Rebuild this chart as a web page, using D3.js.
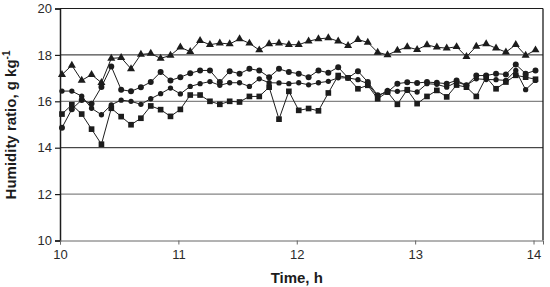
<!DOCTYPE html>
<html>
<head>
<meta charset="utf-8">
<script src="https://cdn.jsdelivr.net/npm/d3@7"></script>
<style>
  body { margin: 0; background: #fff; }
  svg { display: block; font-family: 'Liberation Sans', Arial, sans-serif; }
</style>
</head>
<body>
<script>
// sample times, minutes after 10:00
const minutes = [1, 6, 11, 16, 21, 26, 31, 36, 41, 46, 51, 56, 61, 66, 71, 76, 81, 86, 91, 96,
  101, 106, 111, 116, 121, 126, 131, 136, 141, 146, 151, 156, 161, 166, 171, 176, 181, 186, 191, 196,
  201, 206, 211, 216, 221, 226, 231, 236, 241]

const triangles = [17.15, 17.55, 16.9, 17.15, 16.8, 17.85, 17.88, 17.4, 18.02, 18.06,
  17.85, 17.98, 18.33, 18.14, 18.61, 18.44, 18.51, 18.47, 18.69, 18.5,
  18.21, 18.47, 18.51, 18.44, 18.44, 18.59, 18.69, 18.73, 18.59, 18.4,
  18.66, 18.54, 18.11, 18.0, 18.19, 18.34, 18.23, 18.43, 18.33, 18.29,
  18.35, 17.92, 18.37, 18.47, 18.29, 18.12, 18.44, 17.98, 18.21]

const circles = [14.86, 15.66, 16.06, 15.9, 16.62, 17.5, 16.5, 16.43, 16.61, 16.83,
  17.26, 16.9, 17.04, 17.21, 17.33, 17.33, 16.83, 17.3, 17.19, 17.4,
  17.33, 17.04, 17.4, 17.26, 17.19, 17.04, 17.33, 17.23, 17.47, 17.01,
  17.3, 16.83, 16.26, 16.4, 16.76, 16.82, 16.79, 16.83, 16.8, 16.76,
  16.9, 16.69, 17.11, 17.11, 17.19, 17.16, 17.59, 17.19, 17.33]

const diamonds = [16.44, 16.44, 16.22, 15.7, 15.42, 15.85, 16.05, 16.0, 15.87, 16.11,
  16.33, 16.57, 16.32, 16.64, 16.76, 16.85, 16.69, 16.8, 16.8, 16.64,
  16.97, 16.8, 16.79, 16.76, 16.8, 16.71, 16.8, 16.86, 17.01, 17.01,
  16.93, 16.76, 16.21, 16.47, 16.43, 16.47, 16.4, 16.76, 16.73, 16.61,
  16.83, 16.69, 16.97, 16.94, 16.93, 16.9, 17.33, 16.5, 16.9]

const squares = [15.45, 15.85, 15.45, 14.8, 14.15, 15.7, 15.34, 14.99, 15.27, 15.8,
  15.64, 15.35, 15.65, 16.27, 16.27, 16.0, 15.87, 16.0, 15.97, 16.21,
  16.21, 16.61, 15.23, 16.43, 15.61, 15.69, 15.59, 16.36, 17.11, 17.01,
  16.54, 16.69, 16.11, 16.4, 15.87, 16.5, 15.9, 16.21, 16.47, 16.19,
  16.7, 16.61, 16.21, 17.04, 16.54, 16.83, 17.12, 17.04, 16.95]

const xTicks = [10, 11, 12, 13, 14]
const yTicks = [10, 12, 14, 16, 18, 20]

const ink = '#1c1c1c'
const plotLeft = 60, plotRight = 543, plotTop = 8.5, plotBottom = 240.5

const svg = d3.select('body').append('svg').attr('width', 550).attr('height', 287)

const x = d3.scaleLinear().domain([10, 14.08]).range([plotLeft, plotRight])
const y = d3.scaleLinear().domain([10, 20]).range([plotBottom, plotTop])

// horizontal rules (gridlines + top frame); 12 and 16 print lighter
svg.append('g').selectAll('line').data(yTicks.slice(1)).join('line')
  .attr('x1', plotLeft).attr('x2', plotRight)
  .attr('y1', d => y(d)).attr('y2', d => y(d))
  .attr('stroke', d => (d === 12 || d === 16) ? '#666' : ink).attr('stroke-width', 1)

// right frame
svg.append('line').attr('x1', plotRight).attr('x2', plotRight).attr('y1', plotTop).attr('y2', plotBottom)
  .attr('stroke', ink).attr('stroke-width', 1.3)

// axes
const yAxis = svg.append('g').attr('transform', `translate(${plotLeft},0)`)
  .call(d3.axisLeft(y).tickValues(yTicks).tickFormat(d3.format('d')).tickSize(5).tickPadding(3))
const xAxis = svg.append('g').attr('transform', `translate(0,${plotBottom})`)
  .call(d3.axisBottom(x).tickValues(xTicks).tickFormat(d3.format('d')).tickSize(4).tickPadding(5))

yAxis.select('.domain').attr('stroke', ink).attr('stroke-width', 1.5)
xAxis.select('.domain').attr('stroke', '#666').attr('stroke-width', 1)
yAxis.selectAll('.tick line').attr('stroke', ink).attr('stroke-width', 1.2)
xAxis.selectAll('.tick line').attr('stroke', '#666')
svg.selectAll('.tick text').attr('font-size', 13).attr('fill', '#2a2a2a')
  .attr('font-family', "'Liberation Sans', Arial, sans-serif")

// series
const series = [
  { values: squares, symbol: d3.symbolSquare, size: 32 },
  { values: diamonds, symbol: d3.symbolCircle, size: 22 },
  { values: circles, symbol: d3.symbolCircle, size: 28 },
  { values: triangles, symbol: d3.symbolTriangle, size: 28 }
]

const line = d3.line().x(d => x(10 + d[0] / 60)).y(d => y(d[1]))

series.forEach(s => {
  const pts = minutes.map((m, i) => [m, s.values[i]])
  svg.append('path').datum(pts)
    .attr('d', line).attr('fill', 'none').attr('stroke', ink).attr('stroke-width', 1)
  svg.append('g').selectAll('path').data(pts).join('path')
    .attr('transform', d => `translate(${x(10 + d[0] / 60)},${y(d[1])})`)
    .attr('d', d3.symbol(s.symbol, s.size))
    .attr('fill', ink)
})

// titles
svg.append('text')
  .attr('x', x(12)).attr('y', 283)
  .attr('text-anchor', 'middle').attr('font-size', 15).attr('font-weight', 'bold')
  .attr('fill', ink).text('Time, h')

const yTitle = svg.append('text')
  .attr('transform', 'translate(16,125) rotate(-90)')
  .attr('text-anchor', 'middle').attr('font-size', 15).attr('font-weight', 'bold')
  .attr('fill', ink)
yTitle.append('tspan').text('Humidity ratio, g kg')
yTitle.append('tspan').attr('dy', -6).attr('font-size', 10).text('-1')
</script>
</body>
</html>
